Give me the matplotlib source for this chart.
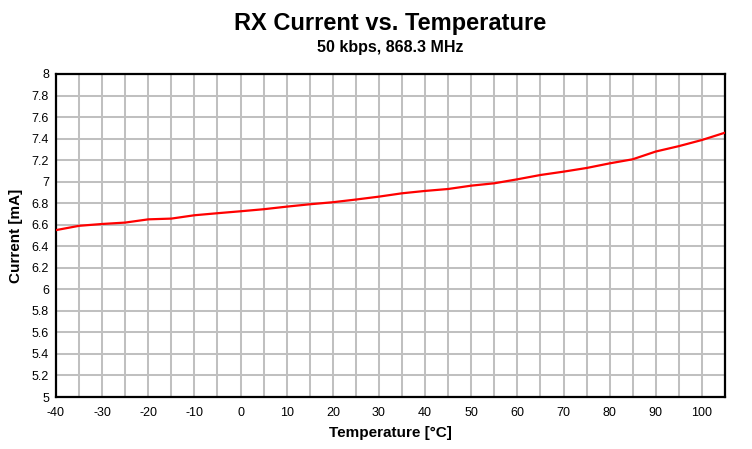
import numpy as np
import matplotlib
matplotlib.use("Agg")
import matplotlib.pyplot as plt
from matplotlib.ticker import FuncFormatter

plt.rcParams['font.family'] = ['Liberation Sans', 'DejaVu Sans']
plt.rcParams['axes.unicode_minus'] = False

# data
temperature = [-40, -35, -30, -25, -20, -15, -10, -5, 0, 5, 10, 15, 20, 25, 30,
               35, 40, 45, 50, 55, 60, 65, 70, 75, 80, 85, 90, 95, 100, 105]
current = [6.55, 6.59, 6.607, 6.62, 6.65, 6.657, 6.688, 6.707, 6.725, 6.744,
           6.768, 6.79, 6.809, 6.834, 6.861, 6.892, 6.914, 6.932, 6.963, 6.985,
           7.022, 7.062, 7.093, 7.127, 7.17, 7.208, 7.28, 7.33, 7.387, 7.455]

x_ticks = list(range(-40, 101, 10))
y_ticks = [round(5 + 0.2 * i, 1) for i in range(16)]

fig = plt.figure(figsize=(7.52, 4.49), dpi=100)
ax = fig.add_axes([56 / 752, 1 - 397 / 449, (725 - 56) / 752, (397 - 74) / 449])

ax.plot(temperature, current, color='#ff0000', linewidth=1.6, zorder=3)

ax.set_xlim(-40, 105)
ax.set_ylim(5, 8)
ax.set_xticks(x_ticks)
ax.set_xticks(list(range(-35, 106, 10)), minor=True)
ax.set_yticks(y_ticks)
ax.yaxis.set_major_formatter(FuncFormatter(lambda v, p: f"{v:g}"))
ax.grid(True, which='both', color='#c0c0c0', linewidth=1.45)
ax.set_axisbelow(True)
ax.tick_params(which='both', length=0, labelsize=9, colors='black')
ax.tick_params(axis='x', pad=7)
ax.tick_params(axis='y', pad=5)

for s in ax.spines.values():
    s.set_linewidth(1.6)
    s.set_color('black')

ax.set_xlabel("Temperature [°C]", fontsize=11, fontweight='bold', labelpad=5)
ax.set_ylabel("Current [mA]", fontsize=11, fontweight='bold', labelpad=6)

fig.text(0.519, 1 - 30 / 449, "RX Current vs. Temperature", ha='center',
         va='baseline', fontsize=17, fontweight='bold')
fig.text(0.519, 1 - 52 / 449, "50 kbps, 868.3 MHz", ha='center',
         va='baseline', fontsize=11.5, fontweight='bold')

fig.savefig("out.png", dpi=100)
